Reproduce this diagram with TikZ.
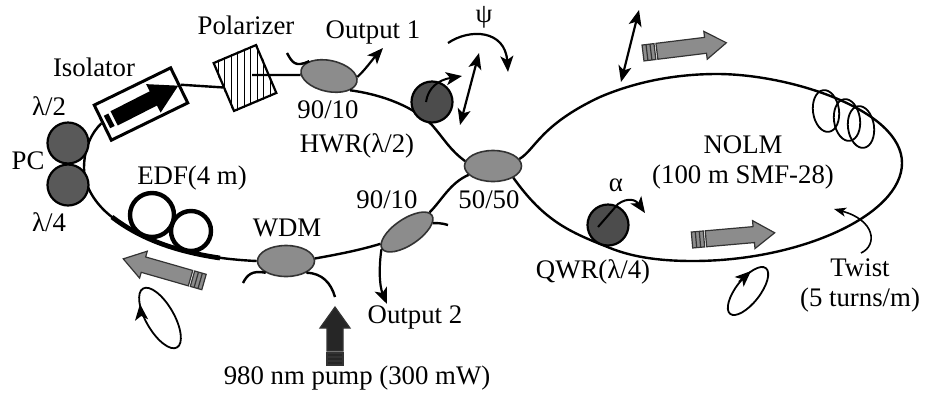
\documentclass[tikz,border=0pt]{standalone}
\usepackage{fontspec}
\setmainfont{Liberation Serif}
\usetikzlibrary{arrows.meta, shapes.geometric}

% striped beam arrow: tail position, angle, length, half shaft, half head, fill
\newcommand{\beamarrow}[6]{
  \begin{scope}[shift={(#1)}, rotate=#2]
    \draw[draw=black!80, line width=0.6pt, fill=#6]
      (14,-#4) -- (#3-21,-#4) -- (#3-21,-#5) -- (#3,0) -- (#3-21,#5) -- (#3-21,#4) -- (14,#4) -- cycle;
    \draw[draw=black!80, line width=0.6pt, fill=#6]
      (0,-#4) rectangle (4,#4) (4,-#4) rectangle (8,#4) (8,-#4) rectangle (12,#4);
  \end{scope}
}

\begin{document}
\begin{tikzpicture}[
    x=0.5pt, y=-0.5pt,
    fiber/.style={line width=1.2pt, black},
    edffiber/.style={line width=2.4pt, black},
    arrow/.style={-{Stealth[length=8pt, width=6.5pt, inset=2pt]}, line width=1.1pt, black},
    twoway/.style={{Stealth[length=8pt, width=6.5pt, inset=2pt]}-{Stealth[length=8pt, width=6.5pt, inset=2pt]}, line width=1.1pt, black},
    coupler/.style={ellipse, draw=black!80, line width=0.8pt, fill=black!45, inner sep=0pt,
      minimum width=28.5pt, minimum height=15.5pt},
    plate/.style={circle, draw=black, line width=1.1pt, fill=black!65, inner sep=0pt, minimum size=20.5pt},
    box/.style={rectangle, draw=black, inner sep=0pt},
    coil/.style={circle, draw=black, line width=2.2pt, inner sep=0pt},
    turn/.style={ellipse, draw=black, line width=0.9pt, inner sep=0pt, minimum width=13pt, minimum height=21pt},
    state/.style={ellipse, draw=black, line width=0.9pt, inner sep=0pt},
    lbl/.style={inner sep=0pt, align=center, font=\fontsize{13.4}{15}\selectfont}
  ]
    \useasboundingbox (0,0) rectangle (925,397);

    % components
    \node[coupler, rotate=-12] (outa) at (329,76) {};
    \node[coupler] (main) at (493,166) {};
    \node[coupler, rotate=34, minimum width=30pt, minimum height=13pt] (outb) at (407,232) {};
    \node[coupler] (wdm) at (286,261) {};
    \node[box, line width=1.5pt, fill=white, rotate=26, minimum width=42.5pt, minimum height=19.5pt] (isolator) at (141,104) {};
    \node[box, line width=1.1pt, fill=white, rotate=23, minimum width=23pt, minimum height=26pt] (polarizer) at (245,78) {};
    \begin{scope}
      \clip (polarizer.north west) -- (polarizer.north east) -- (polarizer.south east) -- (polarizer.south west) -- cycle;
      \foreach \hx in {218,224.5,...,280}
        \draw[line width=0.5pt] (\hx,40) -- (\hx,116);
    \end{scope}

    % free ends
    \coordinate (stuba) at (287,53);
    \coordinate (stubb) at (448,225);
    \coordinate (stubc) at (243,283);
    \coordinate (pumpin) at (335,297);
    \coordinate (outone) at (383,48);
    \coordinate (outtwo) at (387,304);

    % fibers
    \draw[fiber] (outa.190) -- (252,75);
    \draw[fiber] (polarizer.west) -- (isolator.east);
    \draw[fiber] (isolator.west) .. controls (92,132) and (84,148) .. (84,168)
      .. controls (84,190) and (100,208) .. (112,217)
      .. controls (145,242) and (190,258) .. (wdm.west);
    \draw[edffiber] (112,217) .. controls (138,237) and (172,251) .. (220,258);
    \draw[fiber] (outa.-22) .. controls (385,95) and (415,108) .. (432,125)
      .. controls (445,140) and (450,150) .. (main.170);
    \draw[fiber] (main.15) .. controls (535,150) and (540,125) .. (600,97)
      .. controls (635,82) and (675,74) .. (717,74)
      .. controls (790,74) and (902,110) .. (902,163)
      .. controls (902,215) and (800,261) .. (693,261)
      .. controls (655,261) and (630,256) .. (610,248)
      .. controls (570,232) and (545,222) .. (main.-30);
    \draw[fiber] (main.200) .. controls (450,183) and (442,200) .. (outb.7);
    \draw[fiber] (outb.170) .. controls (360,250) and (340,254) .. (wdm.5);
    \draw[fiber] (outa.155) .. controls (295,68) and (292,62) .. (stuba);
    \draw[fiber] (outb.-15) .. controls (436,223) and (442,223) .. (stubb);
    \draw[fiber] (wdm.-150) .. controls (252,270) and (247,275) .. (stubc);
    \draw[fiber] (wdm.-30) .. controls (322,273) and (331,283) .. (pumpin);
    \draw[arrow] (outa.10) .. controls (365,70) and (372,60) .. (outone);
    \draw[arrow] (outb.180) .. controls (379,265) and (379,285) .. (outtwo);

    % wave plates
    \node[plate] (halfpc) at (68,143) {};
    \node[plate] (quarterpc) at (68,185) {};
    \node[plate, fill=black!70] (hwr) at (432,102) {};
    \node[plate, fill=black!70] (qwr) at (608,225) {};
    \draw[arrow, line width=1pt] (hwr.center) ++(-6,0) .. controls (428,88) and (438,80) .. (462,76);
    \draw[arrow, line width=1pt] (598,227) -- (618,204) .. controls (628,197) and (636,200) .. (645,213);

    % doped fiber coils
    \node[coil, minimum size=22pt] (edfa) at (152,215) {};
    \node[coil, minimum size=20pt] (edfb) at (191,231) {};

    % loop coils
    \node[turn, rotate=8] (turna) at (826,111) {};
    \node[turn, rotate=8] (turnb) at (847,120) {};
    \node[turn, rotate=8] (turnc) at (861,127) {};

    % polarization states
    \node[state, rotate=-60, minimum width=34pt, minimum height=14pt] (statel) at (160,318) {};
    \draw[arrow] (141,314) -- (140,304);
    \node[state, rotate=52, minimum width=29pt, minimum height=12pt] (stater) at (748,291) {};
    \draw[arrow] (739,282) -- (751,271);

    % orientation arrows
    \draw[twoway] (479,53) -- (460,125);
    \draw[twoway] (639,10) -- (621,82);
    \draw[arrow] (448,43) .. controls (470,28) and (505,30) .. (508,72);
    \draw[line width=0.8pt, -{Stealth[length=6pt, width=4.5pt, inset=1.5pt]}] (861,253) .. controls (878,245) and (875,220) .. (834,209);

    % beams
    \beamarrow{643,53}{7}{84}{8}{14}{black!45}
    \beamarrow{692,240}{5}{83}{8}{14}{black!45}
    \beamarrow{204,282}{164}{84}{8}{14}{black!45}
    \beamarrow{335,365}{90}{58}{8}{15}{black!85}
    \begin{scope}[shift={(107,122)}, rotate=27]
      \fill[black] (0,-7) rectangle (5,7);
      \fill[black] (8,-8) -- (52,-8) -- (52,-16) -- (80,0) -- (52,16) -- (52,8) -- (8,8) -- cycle;
    \end{scope}

    % labels
    \node[lbl] (polarizerlbl) at (246,25) {Polarizer};
    \node[lbl] (isolatorlbl) at (94,67) {Isolator};
    \node[lbl] (halflbl) at (49,106) {λ/2};
    \node[lbl] (pclbl) at (28,161) {PC};
    \node[lbl] (quarterlbl) at (49,222) {λ/4};
    \node[lbl] (edflbl) at (192,178) {EDF(4 m)};
    \node[lbl] (wdmlbl) at (287,228) {WDM};
    \node[lbl] (outalbl) at (328,110) {90/10};
    \node[lbl] (hwrlbl) at (357,146) {HWR(λ/2)};
    \node[lbl] (outonelbl) at (373,32) {Output 1};
    \node[lbl] (psilbl) at (484,17) {ψ};
    \node[lbl] (outblbl) at (387,200) {90/10};
    \node[lbl] (mainlbl) at (489,200) {50/50};
    \node[lbl] (outtwolbl) at (415,317) {Output 2};
    \node[lbl] (pumplbl) at (357,378) {980 nm pump (300 mW)};
    \node[lbl] (qwrlbl) at (593,272) {QWR(λ/4)};
    \node[lbl] (alphalbl) at (616,185) {α};
    \node[lbl] (nolmlbl) at (743,162) {NOLM\\(100 m SMF-28)};
    \node[lbl] (twistlbl) at (860,285) {Twist\\(5 turns/m)};
  \end{tikzpicture}
\end{document}
